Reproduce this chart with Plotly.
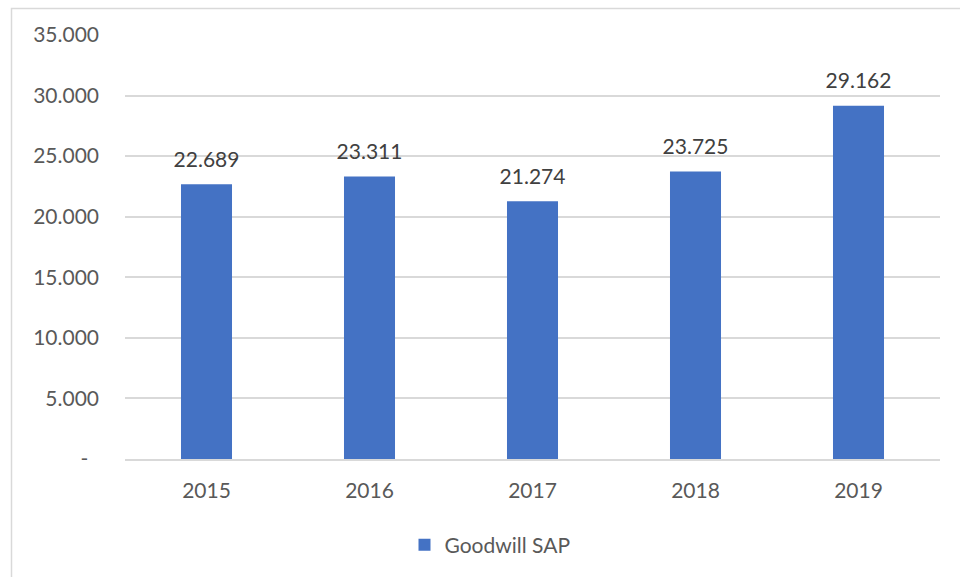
import plotly.graph_objects as go

years = ["2015", "2016", "2017", "2018", "2019"]
goodwill = [22689, 23311, 21274, 23725, 29162]
value_labels = ["22.689", "23.311", "21.274", "23.725", "29.162"]
y_tick_vals = [0, 5000, 10000, 15000, 20000, 25000, 30000, 35000]
y_tick_text = ["-\u00a0\u00a0", "5.000", "10.000", "15.000", "20.000", "25.000", "30.000", "35.000"]

FONT = "Lato"
W, H = 960, 577
ML, MR, MT, MB = 125, 20, 35, 118
PW, PH = W - ML - MR, H - MT - MB

fig = go.Figure()
fig.add_trace(go.Bar(
    x=years, y=goodwill, name="Goodwill SAP",
    marker=dict(color="#4472C4", line=dict(width=0)),
    hoverinfo="skip", showlegend=True,
))
fig.add_trace(go.Scatter(
    x=years, y=goodwill, mode="markers+text", text=value_labels,
    textposition="top center", cliponaxis=False,
    marker=dict(size=18, opacity=0, color="#4472C4"),
    textfont=dict(family=FONT, size=21, color="#404040"),
    hoverinfo="skip", showlegend=False,
))

fig.update_layout(
    width=W, height=H,
    margin=dict(l=ML, r=MR, t=MT, b=MB, autoexpand=False),
    paper_bgcolor="white", plot_bgcolor="white",
    font=dict(family=FONT, size=21, color="#595959"),
    bargap=0.687,
    showlegend=True,
    legend=dict(orientation="h", x=(490 - ML) / PW, xanchor="center",
                y=(459 - 545) / PH, yanchor="middle",
                font=dict(family=FONT, size=21, color="#595959"),
                bgcolor="rgba(0,0,0,0)"),
    xaxis=dict(type="category", categoryorder="array", categoryarray=years,
               showgrid=False, showline=True, linecolor="#d9d9d9", linewidth=1.5,
               ticks="", ticklabelstandoff=12,
               tickfont=dict(family=FONT, size=21, color="#595959")),
    yaxis=dict(range=[0, 35000], tickvals=y_tick_vals, ticktext=y_tick_text,
               showgrid=True, gridcolor="#d9d9d9", gridwidth=1.5,
               zeroline=False, showline=False, ticks="", ticklabelstandoff=25,
               tickfont=dict(family=FONT, size=21, color="#595959")),
    shapes=[dict(type="rect", xref="paper", yref="paper",
                 x0=(11.5 - ML) / PW, x1=1.5, y0=1 + (MT - 8.5) / PH, y1=-1,
                 line=dict(color="#d9d9d9", width=1.5), layer="below")],
)

fig.write_html("out.html", config={"displayModeBar": False},
               post_script="document.body.style.margin='0';")
